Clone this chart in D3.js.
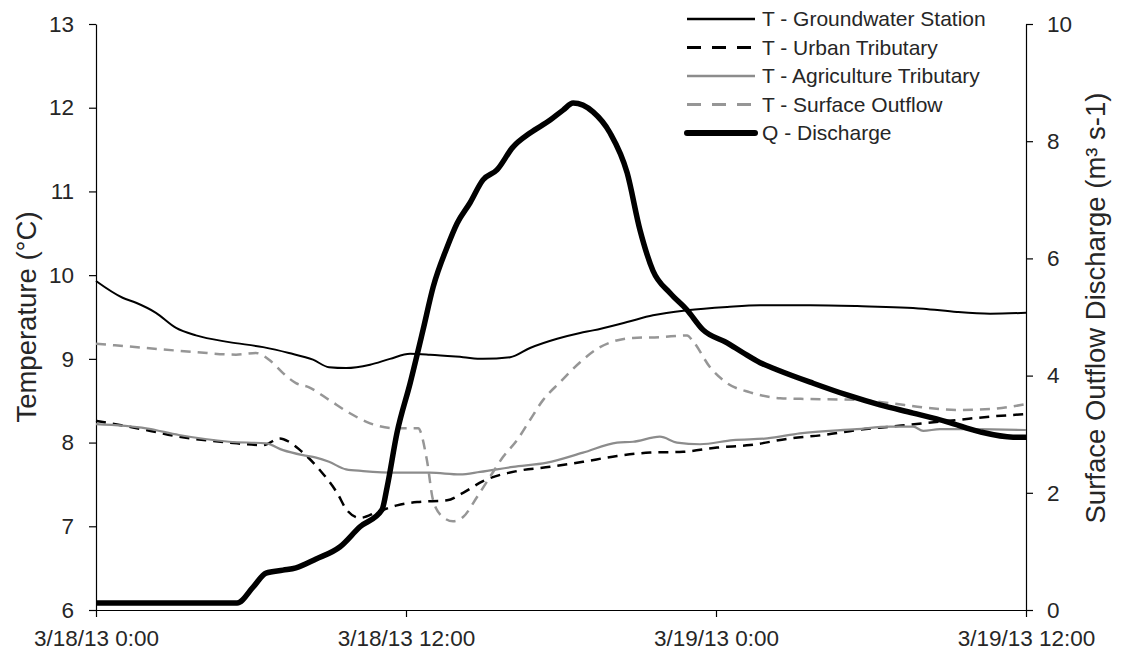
<!DOCTYPE html>
<html>
<head>
<meta charset="utf-8">
<script src="https://cdn.jsdelivr.net/npm/d3@7"></script>
<style>
  html, body { margin: 0; padding: 0; background: #fff; }
  svg { display: block; font-family: "Liberation Sans", Arial, sans-serif; }
  .axis text { fill: #262626; font-size: 22.5px; }
  .axis path, .axis line { stroke: #000; stroke-width: 1.2px; }
</style>
</head>
<body>
<svg id="chart" width="1122" height="656"></svg>
<script>
// Time axis: hours since 3/18/13 0:00
const xTickHours = [0, 12, 24, 36];
const xTickLabels = ["3/18/13 0:00", "3/18/13 12:00", "3/19/13 0:00", "3/19/13 12:00"];
const tempTicks = [6, 7, 8, 9, 10, 11, 12, 13];
const dischargeTicks = [0, 2, 4, 6, 8, 10];

// T - Groundwater Station (°C)
const gwHours = [0, 1.03, 1.55, 2.32, 3.10, 3.87, 5.15, 6.47, 7.47, 8.40, 9.02, 9.68, 10.61, 11.38, 12.16, 12.93, 14.21, 14.98, 16.03, 16.80, 17.85, 18.74, 19.24, 20.56, 21.56, 22.88, 24.43, 25.71, 27.64, 29.46, 32.02, 33.33, 34.61, 36];
const gwTemp  = [9.93, 9.73, 9.67, 9.55, 9.37, 9.28, 9.20, 9.14, 9.07, 8.99, 8.90, 8.89, 8.93, 9.00, 9.06, 9.05, 9.02, 9.00, 9.02, 9.13, 9.24, 9.31, 9.34, 9.44, 9.52, 9.58, 9.62, 9.64, 9.64, 9.63, 9.60, 9.56, 9.54, 9.55];

// T - Urban Tributary (°C)
const urbanHours = [0, 1.94, 3.21, 5.15, 6.47, 7.12, 7.47, 7.90, 8.67, 9.33, 9.72, 10.22, 10.88, 11.65, 12.43, 13.59, 14.21, 14.98, 16.30, 17.58, 18.85, 20.17, 21.45, 22.73, 24.04, 25.32, 26.87, 28.15, 29.46, 30.74, 32.02, 33.33, 34.61, 36];
const urbanTemp  = [8.26, 8.15, 8.07, 8.00, 7.97, 8.05, 8.01, 7.91, 7.67, 7.40, 7.19, 7.10, 7.17, 7.25, 7.29, 7.31, 7.40, 7.54, 7.66, 7.71, 7.77, 7.84, 7.88, 7.89, 7.94, 7.97, 8.05, 8.09, 8.15, 8.19, 8.23, 8.27, 8.31, 8.34];

// T - Agriculture Tributary (°C)
const agriHours = [0, 1.94, 3.21, 5.15, 6.58, 7.24, 8.01, 8.52, 9.02, 9.68, 10.34, 11.65, 12.93, 14.09, 14.87, 16.14, 17.46, 18.85, 20.17, 20.79, 21.83, 22.49, 23.38, 24.66, 25.98, 27.25, 29.46, 30.74, 31.63, 32.02, 32.67, 33.95, 36];
const agriTemp  = [8.22, 8.17, 8.09, 8.01, 7.99, 7.91, 7.85, 7.82, 7.77, 7.68, 7.66, 7.64, 7.64, 7.62, 7.65, 7.71, 7.76, 7.88, 8.00, 8.01, 8.07, 8.00, 7.98, 8.03, 8.05, 8.11, 8.16, 8.19, 8.19, 8.14, 8.16, 8.16, 8.15];

// T - Surface Outflow (°C)
const surfHours = [0, 1.94, 3.87, 5.42, 6.19, 6.70, 7.24, 7.74, 8.25, 9.02, 9.83, 10.61, 11.65, 12.47, 12.81, 13.05, 13.43, 13.82, 14.21, 14.75, 15.25, 15.76, 16.30, 16.80, 17.31, 17.96, 18.74, 19.51, 20.79, 21.83, 22.88, 23.11, 23.77, 24.43, 25.32, 26.48, 27.64, 29.46, 30.74, 32.02, 33.33, 34.61, 36];
const surfTemp  = [9.18, 9.13, 9.08, 9.05, 9.07, 8.99, 8.83, 8.71, 8.66, 8.51, 8.35, 8.23, 8.17, 8.17, 7.79, 7.31, 7.11, 7.06, 7.11, 7.35, 7.59, 7.83, 8.03, 8.27, 8.51, 8.72, 8.96, 9.14, 9.25, 9.26, 9.28, 9.21, 8.90, 8.71, 8.60, 8.53, 8.52, 8.51, 8.47, 8.42, 8.39, 8.40, 8.46];

// Q - Discharge (m³ s-1)
const qHours = [0, 5.46, 6.08, 6.58, 7.24, 7.74, 8.52, 9.45, 10.22, 11.07, 11.27, 11.65, 12.16, 12.66, 13.05, 13.59, 13.98, 14.48, 14.98, 15.52, 16.14, 16.80, 17.58, 18.08, 18.47, 19.24, 19.90, 20.56, 21.06, 21.56, 22.22, 22.88, 23.50, 24.43, 25.05, 25.71, 26.36, 27.76, 29.07, 30.35, 31.63, 32.95, 34.22, 35.50, 36];
const qFlow  = [0.12, 0.12, 0.39, 0.63, 0.68, 0.72, 0.87, 1.08, 1.42, 1.71, 2.10, 3.02, 3.87, 4.78, 5.51, 6.19, 6.60, 6.95, 7.34, 7.51, 7.90, 8.14, 8.36, 8.53, 8.65, 8.50, 8.14, 7.46, 6.48, 5.79, 5.41, 5.12, 4.78, 4.56, 4.39, 4.22, 4.10, 3.87, 3.67, 3.50, 3.36, 3.21, 3.04, 2.95, 2.95];

const seriesNames = ["T - Groundwater Station", "T - Urban Tributary", "T - Agriculture Tributary", "T - Surface Outflow", "Q - Discharge"];

const svg = d3.select("#chart");
const plot = { left: 96, right: 1026, top: 24, bottom: 610 };

const x = d3.scaleLinear().domain([0, 36]).range([plot.left, plot.right]);
const yT = d3.scaleLinear().domain([6, 13]).range([plot.bottom, plot.top]);
const yQ = d3.scaleLinear().domain([0, 10]).range([plot.bottom, plot.top]);

// Axes
svg.append("g").attr("class", "axis")
  .attr("transform", `translate(0,${plot.bottom})`)
  .call(d3.axisBottom(x).tickValues(xTickHours)
    .tickFormat((d, i) => xTickLabels[i]).tickSize(7).tickSizeOuter(0).tickPadding(13));

svg.append("g").attr("class", "axis")
  .attr("transform", `translate(${plot.left},0)`)
  .call(d3.axisLeft(yT).tickValues(tempTicks).tickFormat(d3.format("d"))
    .tickSize(7).tickSizeOuter(0).tickPadding(15));

svg.append("g").attr("class", "axis")
  .attr("transform", `translate(${plot.right},0)`)
  .call(d3.axisRight(yQ).tickValues(dischargeTicks).tickFormat(d3.format("d"))
    .tickSize(7).tickSizeOuter(0).tickPadding(14));

// Axis titles
svg.append("text")
  .attr("transform", `translate(36,317) rotate(-90)`)
  .attr("text-anchor", "middle")
  .attr("fill", "#262626").attr("font-size", 27.5)
  .text("Temperature (°C)");
svg.append("text")
  .attr("transform", `translate(1105,308) rotate(-90)`)
  .attr("text-anchor", "middle")
  .attr("fill", "#262626").attr("font-size", 27.5)
  .text("Surface Outflow Discharge (m³ s-1)");

// Series lines
const series = [
  { name: seriesNames[0], hours: gwHours, vals: gwTemp, y: yT, color: "#000", width: 2, dash: null },
  { name: seriesNames[1], hours: urbanHours, vals: urbanTemp, y: yT, color: "#000", width: 2.5, dash: "10,7" },
  { name: seriesNames[2], hours: agriHours, vals: agriTemp, y: yT, color: "#8c8c8c", width: 2.2, dash: null },
  { name: seriesNames[3], hours: surfHours, vals: surfTemp, y: yT, color: "#969696", width: 2.5, dash: "10,7" },
  { name: seriesNames[4], hours: qHours, vals: qFlow, y: yQ, color: "#000", width: 5.5, dash: null }
];

series.forEach(s => {
  const pts = s.hours.map((h, i) => [h, s.vals[i]]);
  const line = d3.line().x(d => x(d[0])).y(d => s.y(d[1])).curve(d3.curveMonotoneX);
  svg.append("path")
    .datum(pts)
    .attr("d", line)
    .attr("fill", "none")
    .attr("stroke", s.color)
    .attr("stroke-width", s.width)
    .attr("stroke-linejoin", "round")
    .attr("stroke-dasharray", s.dash);
});

// Legend
const legend = svg.append("g").attr("transform", "translate(687,19)");
series.forEach((s, i) => {
  const row = legend.append("g").attr("transform", `translate(0,${i * 28.5})`);
  row.append("line")
    .attr("x1", 0).attr("x2", 68).attr("y1", 0).attr("y2", 0)
    .attr("stroke", s.color)
    .attr("stroke-width", i === 4 ? 6 : (s.dash ? 3 : 2.5))
    .attr("stroke-linecap", i === 4 ? "round" : "butt")
    .attr("stroke-dasharray", s.dash ? "14,11" : null);
  row.append("text")
    .attr("x", 75).attr("y", 0).attr("dy", "0.35em")
    .attr("fill", "#262626").attr("font-size", 21)
    .text(s.name);
});
</script>
</body>
</html>
